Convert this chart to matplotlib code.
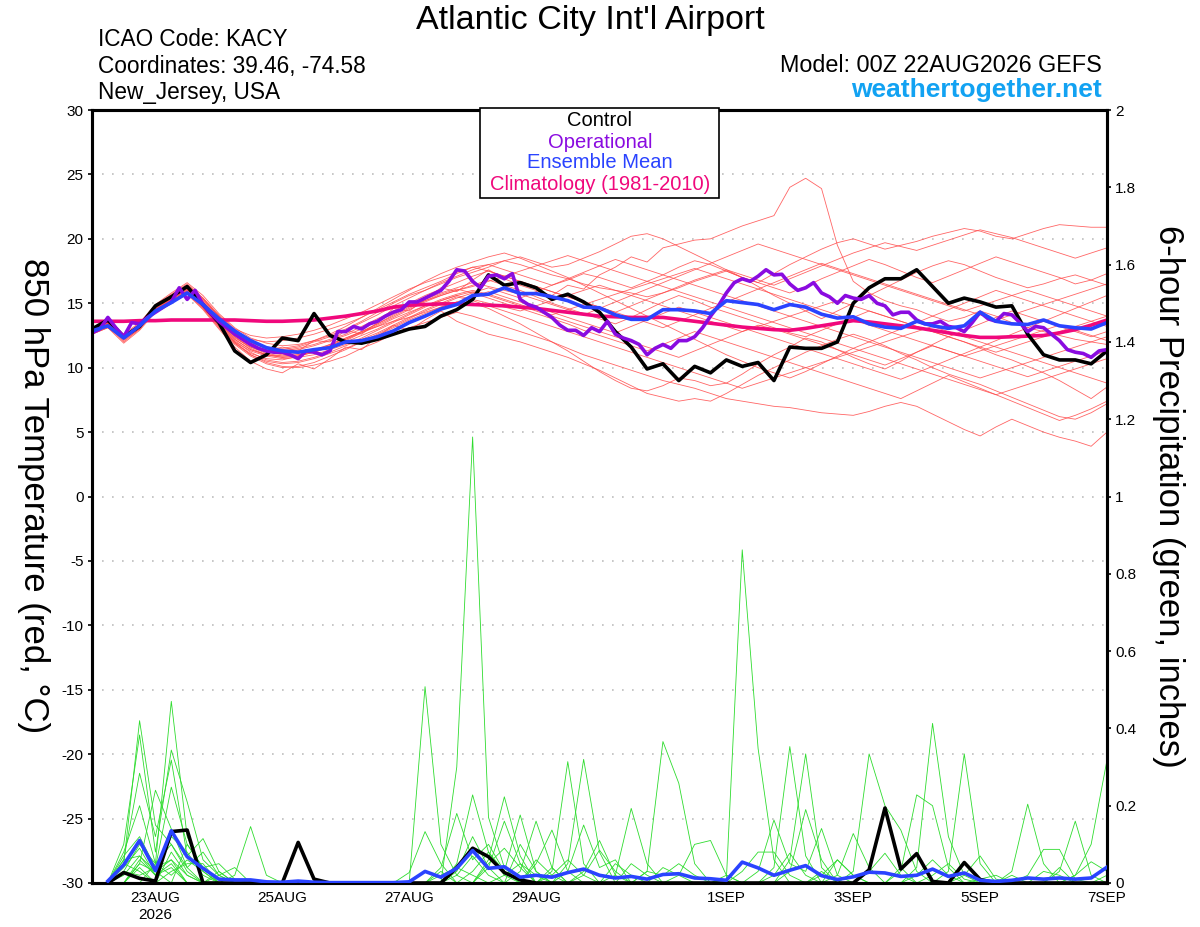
import numpy as np
import matplotlib
matplotlib.use("Agg")
import matplotlib.pyplot as plt
from matplotlib.patches import Rectangle

plt.rcParams['font.family'] = ['Liberation Sans', 'DejaVu Sans']

# forecast hours from 00Z 22AUG2026
hours6 = np.arange(0, 385, 6)      # temperature, 6-hourly
hours3 = np.arange(0, 385, 3)      # operational run, 3-hourly
precip_hours = np.arange(6, 385, 6)

tick_hours = [24, 72, 120, 168, 240, 288, 336, 384]
tick_labels = ["23AUG\n2026", "25AUG", "27AUG", "29AUG", "1SEP", "3SEP", "5SEP", "7SEP"]

control_t = [13.0, 13.7, 12.4, 13.2, 14.8, 15.5, 16.3, 14.9, 13.5, 11.3, 10.4, 11.0, 12.3,
             12.1, 14.2, 12.5, 12.0, 11.9, 12.2, 12.6, 13.0, 13.2, 14.0,
             14.5, 15.3, 17.2, 16.4, 16.6, 16.2, 15.3, 15.7, 15.1, 14.3, 12.8, 11.6, 9.9,
             10.3, 9.0, 10.1, 9.6, 10.6, 10.1, 10.4, 9.0,
             11.6, 11.5, 11.5, 12.0, 15.0, 16.2, 16.9, 16.9, 17.6, 16.3, 15.0, 15.4, 15.1,
             14.7, 14.8, 12.6, 11.0, 10.6, 10.6, 10.3, 11.3]

oper_t = [12.7, 13.0, 13.9, 13.1, 12.4, 13.5, 13.4, 13.9, 14.3, 14.7, 15.1, 16.2, 15.3,
          16.0, 14.9, 14.2, 13.6, 13.1, 12.6, 12.2, 11.8, 11.5, 11.3, 11.2, 11.2, 11.0,
          10.7, 11.3, 11.2, 11.0, 11.3, 12.8, 12.8, 13.2, 13.0, 13.4, 13.6, 14.0, 14.3,
          14.5, 15.1, 15.1, 15.4, 15.7, 16.0,
          16.7, 17.6, 17.5, 16.7, 16.2, 17.1, 17.2, 16.9, 17.3, 15.3, 14.9, 14.7, 14.3,
          13.9, 13.3, 12.9, 12.9, 12.5, 13.1, 12.8, 13.6, 12.6, 12.3, 12.1, 11.8, 11.0,
          11.5, 11.8, 11.5, 12.1, 12.1, 12.4, 13.1, 14.0, 14.8, 15.8, 16.6, 16.9, 16.7,
          17.1, 17.6, 17.2,
          17.25, 16.5, 16.0, 16.2, 16.6, 15.8, 15.5, 15.0, 15.6, 15.4, 15.3, 15.6, 15.0,
          14.8, 14.1, 14.3, 14.3, 13.7, 13.4, 13.4, 13.6, 13.2, 13.1, 12.8, 13.5, 14.3,
          13.8, 13.6, 14.2, 14.1, 13.5, 12.8, 13.2, 13.1, 12.6, 12.1, 11.4, 11.2, 11.1,
          10.8, 11.3, 11.4]

mean_t = [12.85, 13.25, 12.3, 13.25, 14.4, 15.05, 15.8, 14.9, 13.8, 12.85, 12.1, 11.55,
          11.3, 11.2, 11.4, 11.55, 12.0, 12.1, 12.4, 12.85, 13.5, 14.0, 14.55,
          14.9, 15.6, 15.7, 16.2, 15.75, 15.75, 15.5, 15.2, 14.7, 14.65, 14.1, 13.75, 13.75,
          14.5, 14.5, 14.4, 14.2, 15.2, 15.05, 14.9, 14.5,
          14.9, 14.7, 14.15, 13.85, 13.95, 13.4, 13.15, 13.05, 13.6, 13.25, 13.05, 13.25,
          14.3, 13.6, 13.4, 13.35, 13.7, 13.25, 13.1, 13.0, 13.5]

clim_t = [13.6, 13.6, 13.6, 13.65, 13.65, 13.7, 13.7, 13.7, 13.7, 13.7, 13.65, 13.6, 13.6,
          13.65, 13.7, 13.85, 14.0, 14.2, 14.4, 14.7, 14.85, 14.9, 14.95, 14.95, 14.9, 14.85,
          14.8, 14.7, 14.6, 14.45, 14.3, 14.15, 14.0, 13.95, 13.9, 13.9, 13.9, 13.75, 13.6,
          13.45, 13.3, 13.15, 13.05, 12.95, 12.9, 13.05, 13.25, 13.45, 13.65, 13.55, 13.4, 13.25,
          13.1, 12.9, 12.7, 12.5, 12.35, 12.35, 12.4, 12.45, 12.5, 12.7, 12.95, 13.3, 13.7]

# ensemble members, 850 hPa temperature
members_t = [
    [12.9, 13.5, 12.3, 13.2, 14.7, 15.6, 16.3, 15.2, 13.9, 12.6, 11.8, 11.2, 11.6,
     11.3, 12.1, 12.0, 12.9, 12.6, 13.5, 14.6, 14.4, 15.3, 16.2, 15.9, 16.8, 17.6,
     16.9, 16.4, 16.0, 15.6, 16.4, 16.1, 17.2, 17.8, 18.6, 18.2, 19.3, 19.6, 19.9,
     20.0, 20.5, 21.0, 21.4, 21.8, 24.0, 24.7, 23.9, 19.5, 16.7, 15.8, 15.2, 14.8,
     14.5, 14.0, 13.6, 13.9, 14.4, 14.0, 13.5, 13.1, 12.8, 12.5, 12.2, 12.0, 11.8],
    [12.6, 13.2, 12.0, 13.0, 14.5, 15.2, 15.9, 14.8, 13.4, 12.0, 11.0, 10.4, 10.1,
     10.0, 10.2, 10.5, 10.9, 11.5, 12.0, 12.6, 13.1, 13.5, 13.9, 14.3, 14.0, 13.6,
     13.2, 12.8, 12.4, 12.0, 11.5, 11.0, 10.6, 10.2, 9.8, 9.4, 9.0, 8.7, 8.4,
     8.0, 7.6, 7.4, 7.2, 7.0, 6.9, 6.7, 6.5, 6.4, 6.3, 6.6, 7.0, 7.3,
     7.0, 6.4, 5.8, 5.2, 4.7, 5.4, 6.0, 5.5, 5.0, 4.6, 4.3, 3.9, 5.0],
    [13.0, 13.6, 12.6, 13.5, 14.9, 15.8, 16.6, 15.6, 14.2, 13.1, 12.3, 11.9, 11.7,
     11.8, 12.1, 12.5, 13.0, 13.6, 14.3, 15.0, 15.6, 16.0, 16.5, 17.0, 17.4, 17.8,
     18.3, 18.0, 17.6, 17.2, 16.9, 16.5, 16.2, 16.0, 15.8, 15.5, 15.8, 16.2, 16.7,
     17.1, 17.5, 17.0, 16.6, 17.3, 18.0, 18.6, 19.2, 19.7, 20.0, 19.6, 19.2, 19.5,
     19.8, 20.2, 20.5, 20.8, 20.6, 20.2, 20.0, 20.4, 20.8, 21.1, 21.0, 20.9, 20.9],
    [12.7, 13.3, 12.2, 13.1, 14.4, 15.1, 15.8, 14.6, 13.2, 11.9, 11.1, 10.7, 10.6,
     10.9, 11.3, 11.8, 12.3, 12.8, 13.2, 13.6, 13.9, 14.3, 14.7, 15.1, 15.0, 14.6,
     14.0, 13.4, 12.7, 12.0, 11.3, 10.5, 9.7, 9.0, 8.4, 8.2, 8.6, 9.2, 9.0,
     8.6, 8.8, 9.5, 10.3, 11.0, 11.6, 12.3, 12.0, 11.4, 10.8, 10.3, 9.9, 10.5,
     11.2, 11.8, 12.4, 12.0, 11.5, 11.0, 10.6, 10.1, 9.6, 9.0, 8.3, 7.6, 8.5],
    [12.9, 13.5, 12.5, 13.4, 14.8, 15.7, 16.5, 15.4, 14.0, 12.8, 12.2, 12.0, 12.1,
     12.3, 12.6, 13.0, 13.4, 13.9, 14.5, 15.1, 15.7, 16.2, 16.7, 17.3, 17.8, 18.0,
     18.3, 18.6, 18.2, 17.8, 18.0, 18.5, 19.0, 19.6, 20.2, 20.4, 20.0, 19.4, 18.8,
     18.2, 17.6, 17.0, 16.3, 15.6, 15.0, 14.4, 13.8, 14.4, 15.0, 15.6, 16.2, 16.8,
     17.4, 17.9, 18.3, 18.0, 17.5, 17.0, 16.6, 16.2, 16.5, 16.9, 17.2, 16.8, 16.4],
    [12.6, 13.1, 11.9, 12.9, 14.3, 15.0, 15.7, 14.5, 13.0, 11.6, 10.5, 9.9, 9.6,
     10.3, 9.9, 10.7, 11.6, 11.4, 12.4, 13.3, 12.9, 13.7, 14.4, 13.6, 13.1, 12.6,
     12.3, 12.0, 11.6, 11.2, 10.8, 10.3, 9.8, 9.2, 8.6, 8.0, 7.7, 7.4, 7.6,
     7.4, 8.0, 8.7, 9.4, 10.0, 10.6, 11.2, 11.7, 12.2, 12.6, 12.2, 11.7, 11.1,
     10.6, 10.0, 9.5, 9.1, 8.7, 8.2, 7.7, 7.2, 6.7, 6.2, 6.0, 6.5, 7.2],
    [12.8, 13.4, 12.4, 13.3, 14.7, 15.5, 16.2, 15.1, 13.8, 12.6, 11.9, 11.5, 11.4,
     11.6, 12.0, 12.4, 12.9, 13.5, 14.1, 14.8, 15.4, 16.0, 16.6, 17.1, 17.6, 18.0,
     17.6, 17.2, 16.8, 16.4, 16.8, 17.3, 17.0, 16.6, 16.2, 16.7, 17.2, 17.8, 18.3,
     18.0, 17.5, 17.0, 16.6, 16.2, 15.8, 16.3, 16.9, 17.4, 17.9, 18.4, 18.0, 17.5,
     17.0, 16.6, 17.1, 17.6, 18.1, 18.6, 18.2, 17.8, 17.4, 17.0, 16.5, 16.8, 17.3],
    [12.7, 13.3, 12.3, 13.2, 14.5, 15.3, 16.0, 14.9, 13.5, 12.2, 11.4, 11.0, 10.8,
     10.9, 11.2, 11.6, 12.1, 12.7, 13.3, 13.9, 14.5, 15.1, 15.6, 16.0, 16.4, 16.8,
     16.4, 16.0, 15.5, 15.0, 14.6, 14.2, 13.8, 13.4, 13.9, 14.5, 15.1, 15.6, 15.2,
     14.7, 14.3, 13.9, 13.5, 13.1, 12.7, 12.4, 12.9, 13.4, 13.9, 14.4, 14.0, 13.6,
     13.2, 12.8, 12.4, 12.9, 13.4, 13.9, 14.4, 14.0, 13.6, 13.2, 12.8, 12.4, 12.8],
    [12.8, 13.4, 12.2, 13.1, 14.6, 15.4, 16.1, 15.0, 13.6, 12.3, 11.6, 11.2, 11.0,
     11.1, 11.4, 11.8, 12.3, 12.8, 13.4, 14.0, 14.6, 15.2, 15.7, 16.1, 15.8, 15.4,
     15.0, 14.6, 14.2, 13.8, 13.4, 12.9, 12.5, 12.1, 11.7, 11.3, 11.8, 12.3, 12.8,
     12.4, 12.0, 11.6, 11.2, 10.8, 10.4, 10.0, 9.6, 9.2, 8.8, 8.4, 8.0, 7.6,
     8.2, 8.8, 9.4, 8.9, 8.4, 7.9, 7.4, 6.9, 6.4, 5.9, 6.3, 6.8, 7.4],
    [12.9, 13.5, 12.4, 13.3, 14.7, 15.5, 16.3, 15.3, 14.0, 12.9, 12.0, 11.5, 11.3,
     11.5, 11.8, 12.2, 12.6, 13.2, 13.8, 14.4, 15.0, 15.6, 16.1, 16.6, 17.1, 17.5,
     17.1, 16.7, 16.3, 15.9, 15.5, 15.1, 14.7, 14.3, 14.8, 15.3, 15.8, 16.3, 16.8,
     17.2, 17.6, 17.2, 16.8, 16.4, 16.9, 17.4, 17.9, 18.4, 18.9, 19.3, 19.7, 19.4,
     19.1, 19.5, 19.9, 20.3, 20.7, 20.4, 20.1, 19.7, 19.3, 18.9, 18.5, 18.9, 19.3],
    [12.7, 13.2, 12.3, 13.1, 14.5, 15.2, 15.9, 14.7, 13.3, 12.0, 11.3, 10.9, 10.7,
     10.8, 11.0, 11.4, 11.8, 12.3, 12.9, 13.5, 14.1, 14.7, 15.2, 15.6, 15.9, 15.6,
     15.2, 14.8, 14.4, 14.0, 13.6, 13.2, 12.8, 12.4, 12.0, 11.6, 11.2, 10.8, 11.3,
     11.8, 12.3, 12.8, 13.3, 13.0, 12.6, 12.2, 11.8, 11.4, 11.0, 10.6, 10.2, 10.7,
     11.2, 11.7, 11.3, 10.9, 10.5, 10.1, 9.7, 9.3, 9.7, 10.1, 10.5, 10.9, 11.3],
    [13.0, 13.6, 12.5, 13.4, 14.8, 15.6, 16.4, 15.3, 14.0, 12.8, 12.0, 11.6, 11.5,
     11.7, 12.1, 12.6, 13.2, 13.9, 14.6, 15.3, 16.0, 16.7, 17.3, 17.8, 18.2, 18.6,
     18.9, 18.5, 18.0, 17.5, 17.0, 16.4, 15.8, 15.2, 14.6, 14.0, 13.4, 12.8, 12.2,
     11.6, 11.0, 10.5, 10.0, 9.6, 9.2, 9.7, 10.3, 10.9, 11.5, 12.0, 12.5, 13.0,
     13.5, 14.0, 14.5, 15.0, 15.5, 16.0, 15.6, 15.2, 14.8, 14.4, 14.0, 13.6, 13.2],
    [12.6, 13.2, 12.1, 13.0, 14.4, 15.1, 15.8, 14.6, 13.1, 11.8, 10.9, 10.3, 10.0,
     10.1, 10.4, 10.9, 11.4, 12.0, 12.6, 13.2, 13.8, 14.4, 14.9, 15.4, 15.8, 16.2,
     15.8, 15.4, 15.9, 16.4, 16.9, 17.4, 17.9, 18.4, 18.0, 17.6, 17.2, 16.8, 16.4,
     16.0, 15.6, 15.2, 14.8, 14.4, 14.0, 13.6, 13.2, 12.8, 12.4, 12.0, 11.6, 11.2,
     10.8, 10.4, 10.0, 9.6, 9.2, 9.6, 10.0, 10.4, 10.8, 11.2, 11.6, 12.0, 12.4],
    [12.8, 13.3, 12.4, 13.2, 14.6, 15.4, 16.2, 15.1, 13.7, 12.5, 11.7, 11.3, 11.2,
     11.4, 11.7, 12.1, 12.5, 13.0, 13.6, 14.2, 14.8, 15.3, 15.8, 16.2, 16.6, 16.3,
     16.0, 15.7, 15.3, 14.9, 14.5, 14.1, 14.6, 15.1, 15.6, 16.1, 16.6, 17.1, 17.6,
     18.1, 18.6, 19.1, 19.6, 19.2, 18.8, 18.4, 18.0, 17.6, 17.2, 16.8, 16.4, 16.0,
     15.6, 15.2, 14.8, 14.4, 14.8, 15.2, 15.6, 16.0, 15.6, 15.2, 14.8, 14.4, 14.0],
    [12.7, 13.4, 12.3, 13.2, 14.6, 15.3, 16.0, 14.8, 13.4, 12.1, 11.2, 10.6, 10.4,
     10.5, 10.8, 11.2, 11.7, 12.2, 12.7, 13.3, 13.9, 14.5, 15.0, 15.5, 15.2, 14.8,
     14.4, 14.0, 13.6, 13.2, 12.8, 12.4, 12.0, 11.6, 11.2, 10.8, 10.4, 10.0, 9.6,
     9.2, 8.8, 8.4, 8.8, 9.2, 9.6, 10.0, 10.4, 10.8, 11.2, 11.6, 12.0, 12.4,
     12.8, 13.2, 12.8, 12.4, 12.0, 11.6, 11.2, 10.8, 10.4, 10.0, 9.6, 9.2, 8.8],
    [12.9, 13.4, 12.5, 13.3, 14.7, 15.6, 16.4, 15.4, 14.1, 13.0, 12.5, 12.3, 12.4,
     12.6, 12.9, 13.3, 13.8, 14.3, 14.9, 15.5, 16.1, 16.6, 17.0, 17.4, 17.8, 17.5,
     17.1, 16.7, 16.3, 15.9, 15.5, 15.1, 14.7, 14.3, 13.9, 13.5, 13.1, 13.6, 14.1,
     14.6, 15.1, 15.6, 16.1, 16.6, 17.1, 17.6, 18.1, 17.7, 17.3, 16.9, 16.5, 16.1,
     15.7, 15.3, 14.9, 14.5, 14.1, 13.7, 14.1, 14.5, 14.9, 15.3, 15.7, 16.1, 16.5],
    [12.6, 13.1, 12.2, 13.0, 14.4, 15.2, 15.9, 14.7, 13.2, 11.9, 11.0, 10.5, 10.3,
     10.4, 10.7, 11.1, 11.5, 12.0, 12.5, 13.1, 13.7, 14.2, 14.7, 15.1, 15.5, 15.9,
     15.5, 15.1, 14.7, 14.3, 13.9, 13.5, 13.1, 12.7, 13.2, 13.7, 14.2, 14.7, 14.3,
     13.9, 13.5, 13.1, 12.7, 12.3, 11.9, 11.5, 11.1, 10.7, 10.3, 9.9, 9.5, 9.1,
     9.6, 10.1, 10.6, 11.1, 11.6, 12.1, 12.6, 13.1, 13.6, 14.1, 14.6, 15.1, 15.6],
    [12.8, 13.5, 12.4, 13.3, 14.6, 15.5, 16.2, 15.0, 13.6, 12.4, 11.5, 11.0, 10.9,
     11.0, 11.3, 11.7, 12.2, 12.8, 13.4, 14.1, 14.7, 15.2, 15.6, 16.0, 16.3, 16.7,
     17.1, 17.5, 17.9, 18.3, 18.7, 18.3, 17.9, 17.5, 17.1, 16.7, 16.3, 15.9, 15.5,
     15.1, 14.7, 14.3, 13.9, 13.5, 13.1, 12.7, 12.3, 11.9, 11.5, 11.1, 10.7, 10.3,
     9.9, 9.5, 9.1, 8.7, 8.3, 7.9, 8.3, 8.7, 9.1, 9.5, 9.9, 10.3, 10.7],
    [12.7, 13.3, 12.3, 13.1, 14.5, 15.3, 16.1, 15.0, 13.7, 12.4, 11.6, 11.1, 10.9,
     11.0, 11.3, 11.7, 12.2, 12.7, 13.2, 13.8, 14.3, 14.8, 15.2, 15.6, 15.3, 15.0,
     14.7, 14.4, 14.8, 15.2, 15.6, 16.0, 16.4, 16.0, 15.6, 15.2, 14.8, 14.4, 14.0,
     13.6, 13.2, 12.8, 13.2, 13.6, 14.0, 14.4, 14.8, 15.2, 14.8, 14.4, 14.0, 13.6,
     13.2, 12.8, 12.4, 12.0, 11.6, 11.2, 11.6, 12.0, 12.4, 12.8, 13.2, 13.6, 14.0],
    [12.8, 13.4, 12.4, 13.2, 14.6, 15.4, 16.1, 14.9, 13.5, 12.2, 11.4, 11.0, 10.8,
     10.9, 11.2, 11.6, 12.0, 12.5, 13.0, 13.6, 14.2, 14.8, 15.3, 15.7, 16.0, 15.7,
     15.3, 14.9, 14.5, 14.1, 14.5, 14.9, 15.3, 15.7, 16.1, 16.5, 16.9, 17.3, 17.7,
     17.3, 16.9, 16.5, 16.1, 15.7, 15.3, 14.9, 14.5, 14.1, 13.7, 13.3, 12.9, 12.5,
     12.1, 11.7, 11.3, 10.9, 11.3, 11.7, 12.1, 12.5, 12.9, 13.3, 12.9, 12.5, 12.1],
]

# 6-hour precipitation (inches), steps 1..64
control_p = [0.0, 0.027, 0.012, 0.005, 0.133, 0.137, 0.0, 0.0, 0.0, 0.0, 0.0, 0.0, 0.105, 0.01, 0.0, 0.0,
             0.0, 0.0, 0.0, 0.0, 0.0, 0.0, 0.04, 0.09, 0.068, 0.027, 0.008, 0.0, 0.0, 0.0, 0.0, 0.0,
             0.0, 0.0, 0.0, 0.0, 0.0, 0.0, 0.0, 0.0, 0.0, 0.0, 0.0, 0.0, 0.0, 0.0, 0.0, 0.0,
             0.034, 0.194, 0.036, 0.076, 0.004, 0.0, 0.053, 0.009, 0.0, 0.0, 0.0, 0.0, 0.0, 0.0, 0.0, 0.0]

mean_p = [0.005, 0.047, 0.11, 0.032, 0.135, 0.068, 0.038, 0.01, 0.008, 0.008, 0.003, 0.002, 0.005, 0.002, 0.001, 0.001,
          0.001, 0.001, 0.001, 0.003, 0.03, 0.015, 0.038, 0.084, 0.038, 0.042, 0.015, 0.02, 0.015, 0.027, 0.036, 0.02,
          0.013, 0.017, 0.010, 0.022, 0.024, 0.013, 0.011, 0.007, 0.054, 0.039, 0.02, 0.033, 0.045, 0.019, 0.009, 0.016,
          0.028, 0.026, 0.017, 0.02, 0.036, 0.017, 0.026, 0.007, 0.004, 0.007, 0.013, 0.01, 0.013, 0.01, 0.013, 0.041]

# members: {step: amount}, all other steps dry
members_p = [
    {2: 0.05, 3: 0.42, 4: 0.15, 5: 0.10, 6: 0.03, 21: 0.508, 22: 0.10, 23: 0.02, 29: 0.03, 30: 0.314,
     31: 0.05, 52: 0.04, 53: 0.413, 54: 0.12, 55: 0.02},
    {2: 0.08, 3: 0.2, 4: 0.05, 5: 0.47, 6: 0.12, 7: 0.03, 23: 0.30, 24: 1.154, 25: 0.17, 26: 0.04,
     33: 0.02, 34: 0.193, 35: 0.05, 44: 0.03, 45: 0.19, 46: 0.06},
    {2: 0.1, 3: 0.383, 4: 0.08, 5: 0.344, 6: 0.21, 7: 0.06, 8: 0.02, 25: 0.05, 26: 0.09, 27: 0.04,
     40: 0.01, 41: 0.862, 42: 0.348, 43: 0.06, 54: 0.03, 55: 0.334, 56: 0.05},
    {2: 0.06, 3: 0.284, 4: 0.12, 5: 0.318, 6: 0.07, 7: 0.115, 8: 0.03, 25: 0.06, 26: 0.223, 27: 0.07,
     35: 0.03, 36: 0.366, 37: 0.258, 38: 0.05, 48: 0.03, 49: 0.334, 50: 0.2, 51: 0.137, 52: 0.03},
    {2: 0.07, 3: 0.12, 4: 0.04, 5: 0.248, 6: 0.1, 7: 0.04, 30: 0.05, 31: 0.32, 32: 0.08, 43: 0.04,
     44: 0.353, 45: 0.07, 58: 0.03, 59: 0.204, 60: 0.05},
    {3: 0.05, 4: 0.24, 5: 0.14, 6: 0.04, 9: 0.02, 10: 0.146, 11: 0.02, 23: 0.05, 24: 0.228, 25: 0.08,
     26: 0.03, 27: 0.176, 28: 0.03, 44: 0.06, 45: 0.334, 46: 0.04, 62: 0.02, 63: 0.1, 64: 0.318},
    {2: 0.03, 3: 0.1, 4: 0.05, 5: 0.1, 6: 0.04, 7: 0.08, 8: 0.02, 27: 0.03, 28: 0.16, 29: 0.04,
     51: 0.03, 52: 0.228, 53: 0.2, 54: 0.04, 61: 0.03, 62: 0.16, 63: 0.02},
    {2: 0.06, 3: 0.07, 4: 0.03, 6: 0.1, 7: 0.04, 8: 0.05, 9: 0.01, 28: 0.05, 29: 0.137, 30: 0.03,
     47: 0.02, 48: 0.128, 49: 0.04, 59: 0.02, 60: 0.087, 61: 0.087, 62: 0.01},
    {3: 0.05, 4: 0.03, 5: 0.06, 8: 0.02, 9: 0.04, 20: 0.027, 21: 0.133, 22: 0.05, 31: 0.03, 32: 0.11,
     33: 0.02, 42: 0.03, 43: 0.163, 44: 0.05, 45: 0.03, 46: 0.141, 47: 0.02},
    {2: 0.05, 3: 0.03, 5: 0.08, 6: 0.02, 22: 0.04, 23: 0.18, 24: 0.06, 25: 0.1, 26: 0.03, 37: 0.02,
     38: 0.1, 39: 0.11, 40: 0.02, 56: 0.01, 57: 0.02},
    {3: 0.04, 5: 0.03, 6: 0.05, 7: 0.05, 25: 0.04, 26: 0.16, 27: 0.05, 30: 0.03, 31: 0.15, 32: 0.04,
     33: 0.06, 41: 0.03, 42: 0.08, 43: 0.08, 44: 0.02, 49: 0.03, 50: 0.077, 51: 0.02},
    {2: 0.03, 3: 0.02, 4: 0.04, 5: 0.06, 6: 0.02, 23: 0.03, 24: 0.12, 25: 0.04, 27: 0.1, 28: 0.03,
     31: 0.02, 32: 0.085, 33: 0.03, 46: 0.02, 47: 0.06, 48: 0.02, 62: 0.02, 63: 0.055, 64: 0.03},
    {2: 0.02, 3: 0.07, 4: 0.02, 5: 0.04, 24: 0.03, 25: 0.08, 26: 0.02, 28: 0.06, 29: 0.02, 33: 0.05,
     34: 0.02, 43: 0.02, 44: 0.077, 45: 0.02, 53: 0.02, 54: 0.05, 55: 0.01, 58: 0.02},
    {3: 0.06, 4: 0.02, 5: 0.12, 6: 0.08, 7: 0.02, 23: 0.02, 24: 0.07, 25: 0.02, 29: 0.02, 30: 0.06,
     31: 0.02, 35: 0.03, 36: 0.02, 37: 0.05, 38: 0.02, 40: 0.02, 55: 0.02, 56: 0.07, 57: 0.01},
    {2: 0.04, 3: 0.09, 4: 0.02, 5: 0.05, 8: 0.03, 22: 0.02, 23: 0.04, 24: 0.02, 29: 0.04, 34: 0.05,
     35: 0.02, 47: 0.06, 48: 0.02, 51: 0.04, 60: 0.03, 61: 0.02},
    {4: 0.05, 5: 0.02, 6: 0.06, 7: 0.03, 22: 0.03, 26: 0.02, 27: 0.05, 28: 0.02, 36: 0.04, 37: 0.02,
     46: 0.03, 52: 0.02, 53: 0.06, 54: 0.02, 61: 0.04, 64: 0.02},
]

RED = "#ff4a4a"
GREEN = "#2edc2e"
PURPLE = "#8a0be0"
BLUE = "#2a43ff"
PINK = "#f0087c"

fig = plt.figure(figsize=(12, 9.27), dpi=100)
ax = fig.add_axes([92 / 1200, 44 / 927, 1015 / 1200, 773 / 927])
ax2 = ax.twinx()

# temperature
for m in members_t:
    ax.plot(hours6, m, color=RED, lw=0.6, alpha=0.85, zorder=2)
ax.plot(hours6, clim_t, color=PINK, lw=2.6, zorder=3)
ax.plot(hours6, control_t, color="black", lw=2.6, zorder=4)
ax.plot(hours3, oper_t, color=PURPLE, lw=2.6, zorder=5)
ax.plot(hours6, mean_t, color=BLUE, lw=2.6, zorder=6)

# precipitation
for m in members_p:
    vals = np.zeros(len(precip_hours))
    for step, v in m.items():
        vals[step - 1] = v
    ax2.plot(precip_hours, vals, color=GREEN, lw=0.6, zorder=2)
ax2.plot(precip_hours, control_p, color="black", lw=2.6, zorder=4)
ax2.plot(precip_hours, mean_p, color=BLUE, lw=2.6, zorder=5)

ax.set_xlim(0, 384)
ax.set_ylim(-30, 30)
ax2.set_ylim(0, 2)
ax.set_yticks(np.arange(-30, 31, 5))
ax.set_yticklabels([str(v) for v in range(-30, 31, 5)])
ax2.set_yticks(np.arange(0, 2.01, 0.2))
ax2.set_yticklabels(["0", "0.2", "0.4", "0.6", "0.8", "1", "1.2", "1.4", "1.6", "1.8", "2"])
ax.set_xticks(tick_hours)
ax.set_xticklabels(tick_labels)

for y in range(-25, 30, 5):
    ax.axhline(y, color="#bdbdbd", lw=1.2, ls=(0, (1, 5)), zorder=1)

for a in (ax, ax2):
    for s in a.spines.values():
        s.set_linewidth(2.2)
ax.tick_params(axis="y", labelsize=11, length=3, width=1.2, pad=3)
ax2.tick_params(axis="y", labelsize=11, length=3, width=1.2, pad=3)
ax.tick_params(axis="x", labelsize=11, length=0, pad=6)

# header text
fig.text(0.492, 1 - 20 / 927, "Atlantic City Int'l Airport", ha="center", va="center", fontsize=24.5)
fig.text(0.0817, 1 - 40 / 927, "ICAO Code: KACY", ha="left", va="center", fontsize=16.3)
fig.text(0.0817, 1 - 66 / 927, "Coordinates: 39.46, -74.58", ha="left", va="center", fontsize=16.3)
fig.text(0.0817, 1 - 93 / 927, "New_Jersey, USA", ha="left", va="center", fontsize=16.3)
fig.text(1102 / 1200, 1 - 65 / 927, "Model: 00Z 22AUG2026 GEFS", ha="right", va="center", fontsize=16.8)
fig.text(1102 / 1200, 1 - 90 / 927, "weathertogether.net", ha="right", va="center",
         fontsize=19, fontweight="bold", color="#12a2f2")

fig.text(33 / 1200, 1 - 496 / 927, "850 hPa Temperature (red, °C)", rotation=-90,
         ha="center", va="center", fontsize=25)
fig.text(1168 / 1200, 1 - 496 / 927, "6-hour Precipitation (green, inches)", rotation=-90,
         ha="center", va="center", fontsize=25)

# legend box
box = Rectangle((480 / 1200, 1 - 198 / 927), 239 / 1200, 90 / 927, transform=fig.transFigure,
                facecolor="white", edgecolor="black", lw=1.2, zorder=10)
fig.add_artist(box)
for y, txt, col in [(121, "Control", "black"), (142, "Operational", PURPLE),
                    (163, "Ensemble Mean", BLUE), (185, "Climatology (1981-2010)", PINK)]:
    t = fig.text(600 / 1200, 1 - y / 927, txt, ha="center", va="center", fontsize=14.5, color=col)
    t.set_zorder(11)

fig.savefig("out.png", dpi=100)
